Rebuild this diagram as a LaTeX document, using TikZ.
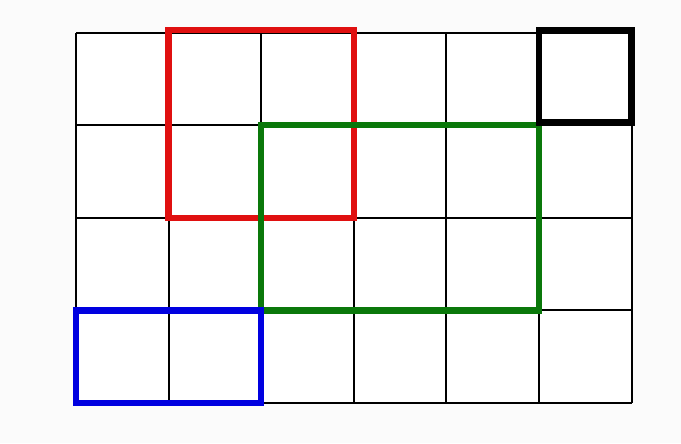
\documentclass[tikz,border=0pt]{standalone}
\usepackage{tikz}
\usepackage{xcolor}
\definecolor{BoxRed}{HTML}{E01010}
\definecolor{BoxGreen}{HTML}{0A780A}
\definecolor{BoxBlue}{HTML}{0000E0}
\definecolor{PageBg}{HTML}{FBFBFB}
\tikzset{
    gridline/.style={draw=black, line width=0.6pt},
    region/.style={line width=2pt},
}
\begin{document}
\begin{tikzpicture}[x=1cm, y=1cm]
% background and bounding box
\fill[PageBg] (-0.821,-0.432) rectangle (6.533,4.352);
\useasboundingbox (-0.821,-0.432) rectangle (6.533,4.352);
\fill[white] (0,0) rectangle (6,4);
% cell grid
\foreach \i in {0,...,6}
    \draw[gridline] (\i,0) -- (\i,4);
\foreach \j in {0,...,4}
    \draw[gridline] (0,\j) -- (6,\j);
% highlighted regions
\draw[region, draw=BoxRed] (1,2) rectangle (3,4.03);
\draw[region, draw=BoxGreen] (2,1) rectangle (5,3);
\draw[region, draw=BoxBlue] (0,0) rectangle (2,1);
\draw[region, draw=black] (5,3.03) rectangle (6,4.03);
\end{tikzpicture}
\end{document}
